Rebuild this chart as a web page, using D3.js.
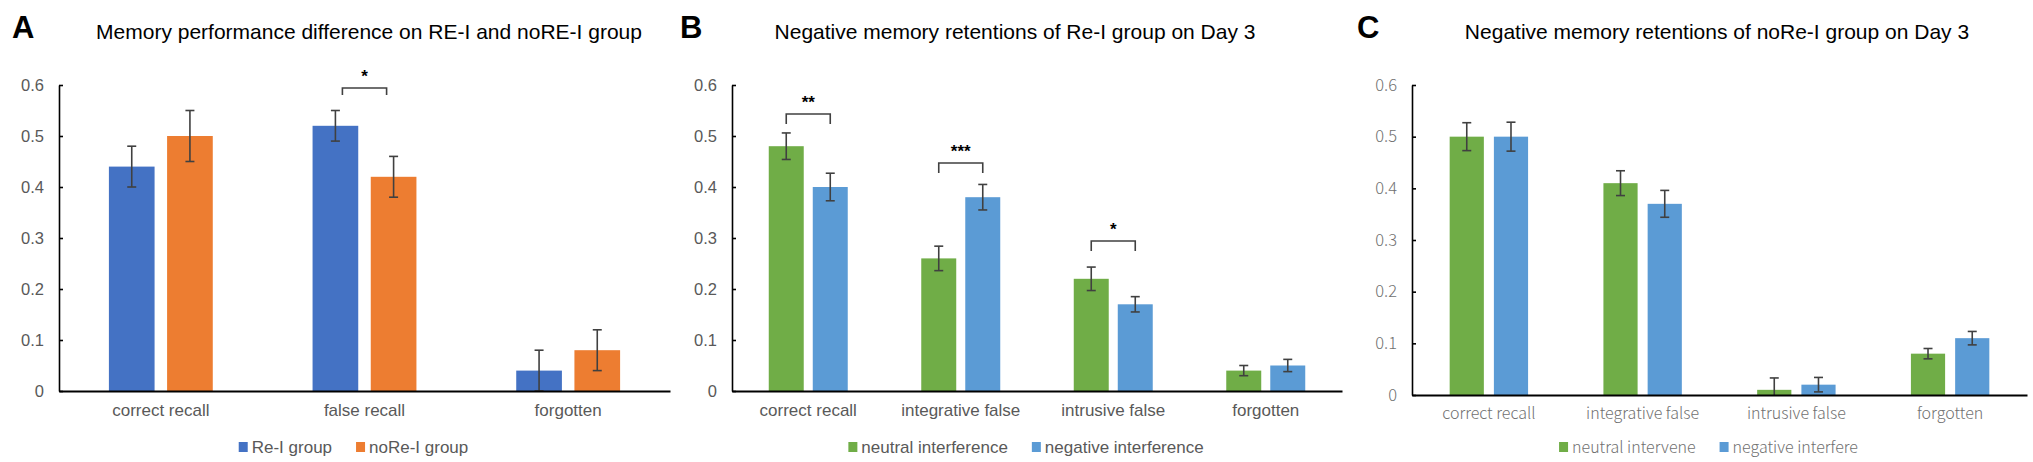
<!DOCTYPE html>
<html>
<head>
<meta charset="utf-8">
<script src="https://cdn.jsdelivr.net/npm/d3@7"></script>
<style>
  body { margin: 0; background: #fff; }
  svg { display: block; }
</style>
</head>
<body>
<svg id="chart" width="2033" height="462"></svg>
<script>
// ---- data ----
const catsA = ['correct recall', 'false recall', 'forgotten']
const seriesA = ['Re-I group', 'noRe-I group']
const reI = [0.44, 0.52, 0.04]
const reIErr = [0.04, 0.03, 0.04]
const noReI = [0.50, 0.42, 0.08]
const noReIErr = [0.05, 0.04, 0.04]

const catsB = ['correct recall', 'integrative false', 'intrusive false', 'forgotten']
const seriesB = ['neutral interference', 'negative interference']
const neutralB = [0.48, 0.26, 0.22, 0.04]
const neutralBErr = [0.026, 0.024, 0.023, 0.010]
const negativeB = [0.40, 0.38, 0.17, 0.05]
const negativeBErr = [0.027, 0.025, 0.015, 0.012]

const catsC = ['correct recall', 'integrative false', 'intrusive false', 'forgotten']
const seriesC = ['neutral intervene', 'negative interfere']
const neutralC = [0.50, 0.41, 0.01, 0.08]
const neutralCErr = [0.027, 0.024, 0.023, 0.010]
const negativeC = [0.50, 0.37, 0.02, 0.11]
const negativeCErr = [0.028, 0.026, 0.014, 0.013]

const yTicks = [0, 0.1, 0.2, 0.3, 0.4, 0.5, 0.6]

// significance brackets: category index, bracket height (data units), label
const sigA = [{ cat: 1, top: 0.594, label: '*' }]
const sigB = [
  { cat: 0, top: 0.543, label: '**' },
  { cat: 1, top: 0.447, label: '***' },
  { cat: 2, top: 0.294, label: '*' }
]

const svg = d3.select('#chart')

let drawPanel = (p) => {
  let g = svg.append('g')

  let x0 = d3.scaleBand()
    .domain(p.cats)
    .range([p.left, p.right])
    .paddingInner(p.pad)
    .paddingOuter(p.pad / 2)

  let x1 = d3.scaleBand()
    .domain([0, 1])
    .range([0, x0.bandwidth()])
    .paddingInner(p.gap)

  let y = d3.scaleLinear()
    .domain([0, 0.6])
    .range([p.bottom, p.top])

  // bars + error bars
  let rows = []
  p.cats.forEach((c, i) => {
    rows.push({ cat: c, s: 0, v: p.vals[0][i], e: p.errs[0][i] })
    rows.push({ cat: c, s: 1, v: p.vals[1][i], e: p.errs[1][i] })
  })

  let cx = d => x0(d.cat) + x1(d.s) + x1.bandwidth() / 2

  g.selectAll('rect.bar')
    .data(rows)
    .enter()
    .append('rect')
    .attr('class', 'bar')
    .attr('x', d => x0(d.cat) + x1(d.s))
    .attr('y', d => y(d.v))
    .attr('width', x1.bandwidth())
    .attr('height', d => y(0) - y(d.v))
    .attr('fill', d => p.colors[d.s])

  let err = g.selectAll('g.err')
    .data(rows)
    .enter()
    .append('g')
    .attr('class', 'err')
    .attr('stroke', '#404040')
    .attr('stroke-width', 1.6)

  err.append('line')
    .attr('x1', cx).attr('x2', cx)
    .attr('y1', d => y(d.v + d.e))
    .attr('y2', d => y(Math.max(0, d.v - d.e)))
  err.append('line')
    .attr('x1', d => cx(d) - 4.5).attr('x2', d => cx(d) + 4.5)
    .attr('y1', d => y(d.v + d.e)).attr('y2', d => y(d.v + d.e))
  err.filter(d => d.v - d.e >= 0)
    .append('line')
    .attr('x1', d => cx(d) - 4.5).attr('x2', d => cx(d) + 4.5)
    .attr('y1', d => y(d.v - d.e)).attr('y2', d => y(d.v - d.e))

  // y axis, ticks pointing inward like Excel
  let ya = g.append('g')
    .attr('transform', 'translate(' + p.left + ',0)')
    .call(d3.axisLeft(y).tickValues(yTicks).tickFormat(d => d === 0 ? '0' : d3.format('.1f')(d))
      .tickSizeInner(-4).tickSizeOuter(0).tickPadding(15))
  ya.select('.domain').attr('stroke', '#000').attr('stroke-width', 1.6)
  ya.selectAll('.tick line').attr('stroke', '#000').attr('stroke-width', 1.6)
  ya.selectAll('.tick text')
    .attr('fill', p.textColor)
    .style('font-family', p.font)
    .style('font-weight', p.fontWeight)
    .style('font-size', '16.5px')

  // x axis
  let xa = g.append('g')
    .attr('transform', 'translate(0,' + p.bottom + ')')
    .call(d3.axisBottom(x0).tickSize(0).tickSizeOuter(0).tickPadding(13))
  xa.select('.domain').attr('stroke', '#000').attr('stroke-width', 2.2)
  xa.selectAll('.tick text')
    .attr('fill', p.textColor)
    .style('font-family', p.font)
    .style('font-weight', p.fontWeight)
    .style('font-size', p.catSize)

  // significance brackets
  p.sig.forEach(s => {
    let a = cx({ cat: p.cats[s.cat], s: 0 }) + p.sigInset
    let b = cx({ cat: p.cats[s.cat], s: 1 }) - p.sigInset
    let t = y(s.top)
    g.append('path')
      .attr('d', 'M' + a + ',' + (t + p.legLen) + 'V' + t + 'H' + b + 'V' + (t + p.legLen))
      .attr('fill', 'none')
      .attr('stroke', '#404040')
      .attr('stroke-width', 1.6)
    g.append('text')
      .attr('x', (a + b) / 2)
      .attr('y', t - 6)
      .attr('text-anchor', 'middle')
      .style('font-family', 'Liberation Sans, Arial, sans-serif')
      .style('font-weight', 'bold')
      .style('font-size', '17px')
      .text(s.label)
  })

  // title and panel letter
  g.append('text')
    .attr('x', p.titleX)
    .attr('y', 39)
    .attr('text-anchor', 'middle')
    .style('font-family', 'Liberation Sans, Arial, sans-serif')
    .style('font-size', '21px')
    .attr('fill', '#000')
    .text(p.title)

  g.append('text')
    .attr('x', p.letterX)
    .attr('y', 38)
    .style('font-family', 'Liberation Sans, Arial, sans-serif')
    .style('font-weight', 'bold')
    .style('font-size', '31px')
    .text(p.letter)

  // legend, centred under the plot
  let leg = g.append('g')
  let lx = 0
  p.series.forEach((name, i) => {
    let item = leg.append('g').attr('transform', 'translate(' + lx + ',0)')
    item.append('rect')
      .attr('x', 0).attr('y', -11)
      .attr('width', 9).attr('height', 10)
      .attr('fill', p.colors[i])
    let t = item.append('text')
      .attr('x', 13)
      .attr('y', 0)
      .attr('fill', p.textColor)
      .style('font-family', p.font)
      .style('font-weight', p.fontWeight)
      .style('font-size', p.catSize)
      .text(name)
    lx += 13 + t.node().getComputedTextLength() + 24
  })
  let lw = lx - 24
  leg.attr('transform', 'translate(' + ((p.left + p.right) / 2 - 11 - lw / 2) + ',' + p.legendY + ')')
}

drawPanel({
  letter: 'A', letterX: 12, titleX: 369,
  title: 'Memory performance difference on RE-I and noRE-I group',
  cats: catsA, series: seriesA,
  vals: [reI, noReI], errs: [reIErr, noReIErr],
  colors: ['#4472C4', '#ED7D31'],
  left: 59, right: 670, top: 85, bottom: 391,
  pad: 0.49, gap: 0.215,
  sig: sigA, sigInset: 7, legLen: 7,
  font: 'Liberation Sans, Arial, sans-serif', fontWeight: 'normal',
  textColor: '#595959', catSize: '17px', legendY: 453
})

drawPanel({
  letter: 'B', letterX: 680, titleX: 1015,
  title: 'Negative memory retentions of Re-I group on Day 3',
  cats: catsB, series: seriesB,
  vals: [neutralB, negativeB], errs: [neutralBErr, negativeBErr],
  colors: ['#70AD47', '#5B9BD5'],
  left: 732, right: 1342, top: 85, bottom: 391,
  pad: 0.482, gap: 0.205,
  sig: sigB, sigInset: 0, legLen: 10,
  font: 'Liberation Sans, Arial, sans-serif', fontWeight: 'normal',
  textColor: '#595959', catSize: '17px', legendY: 453
})

drawPanel({
  letter: 'C', letterX: 1357, titleX: 1717,
  title: 'Negative memory retentions of noRe-I group on Day 3',
  cats: catsC, series: seriesC,
  vals: [neutralC, negativeC], errs: [neutralCErr, negativeCErr],
  colors: ['#70AD47', '#5B9BD5'],
  left: 1412, right: 2027, top: 85, bottom: 395,
  pad: 0.49, gap: 0.227,
  sig: [], sigInset: 0, legLen: 10,
  font: '"Noto Sans CJK SC", "Noto Sans", sans-serif', fontWeight: 300,
  textColor: '#707070', catSize: '16px', legendY: 453
})
</script>
</body>
</html>
